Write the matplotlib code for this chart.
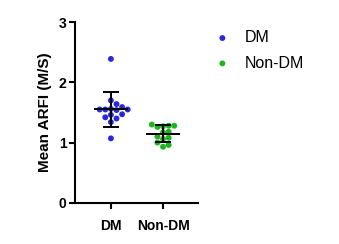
import matplotlib
matplotlib.use("Agg")
import matplotlib.pyplot as plt
import numpy as np

groups = ["DM", "Non-DM"]
dm = [2.39, 1.07, 1.70, 1.64, 1.55, 1.55, 1.55, 1.56, 1.54, 1.59, 1.46, 1.47, 1.42, 1.40, 1.34]
non_dm = [1.26, 1.28, 1.30, 1.28, 1.27, 1.18, 1.17, 1.10, 1.08, 1.06, 0.93, 0.96, 1.00]
means = [1.555, 1.15]
sds = [0.29, 0.135]
colors = ["#2828dc", "#1eb41e"]

plt.rcParams['font.family'] = ['Liberation Sans', 'DejaVu Sans']

fig = plt.figure(figsize=(3.39, 2.44), dpi=100)
ax = fig.add_axes([0.221, 0.169, 0.363, 0.74])
ax.set_xlim(-0.69, 1.67)
ax.set_ylim(0, 3)

# pixels per data unit, used for a simple swarm layout
px_x = 0.363 * 339 / (1.67 + 0.69)
px_y = 0.74 * 244 / 3.0
d = 5.6  # marker spacing in px


def swarm(vals):
    placed = []
    offs = [0.0] * len(vals)
    order = np.argsort(vals)
    for i in order:
        y = vals[i] * px_y
        k = 0
        while True:
            cands = [0.0] if k == 0 else [k * d, -k * d]
            ok = None
            for c in cands:
                if all((c - px) ** 2 + (y - py) ** 2 >= d * d * 0.95 for px, py in placed):
                    ok = c
                    break
            if ok is not None:
                placed.append((ok, y))
                offs[i] = ok / px_x
                break
            k += 1
    return np.array(offs)


for i, vals in enumerate([dm, non_dm]):
    x = i + swarm(vals)
    ax.scatter(x, vals, s=18, color=colors[i], edgecolors='none', zorder=2,
               label=groups[i])
    ax.hlines(means[i], i - 0.33, i + 0.33, color='black', lw=1.4, zorder=3)
    ax.errorbar(i, means[i], yerr=sds[i], fmt='none', ecolor='black',
                elinewidth=1.4, capsize=5.5, capthick=1.4, zorder=3)

ax.spines['top'].set_visible(False)
ax.spines['right'].set_visible(False)
ax.spines['left'].set_linewidth(1.5)
ax.spines['bottom'].set_linewidth(1.5)
ax.set_xticks([0, 1])
ax.set_xticklabels(groups, fontsize=10, fontweight='bold')
ax.set_yticks([0, 1, 2, 3])
ax.set_yticklabels(['0', '1', '2', '3'], fontsize=10, fontweight='bold')
ax.tick_params(axis='x', length=4, width=1.5, pad=8)
ax.tick_params(axis='y', length=4, width=1.5, pad=2)
ax.set_ylabel("Mean ARFI (M/S)", fontsize=11, fontweight='bold', labelpad=5)

leg = fig.legend(loc='upper left', bbox_to_anchor=(0.59, 0.935), frameon=False,
                 fontsize=11.5, handlelength=1.0, handletextpad=0.9,
                 labelspacing=0.65, borderpad=0.4)

fig.savefig("out.png", dpi=100)
